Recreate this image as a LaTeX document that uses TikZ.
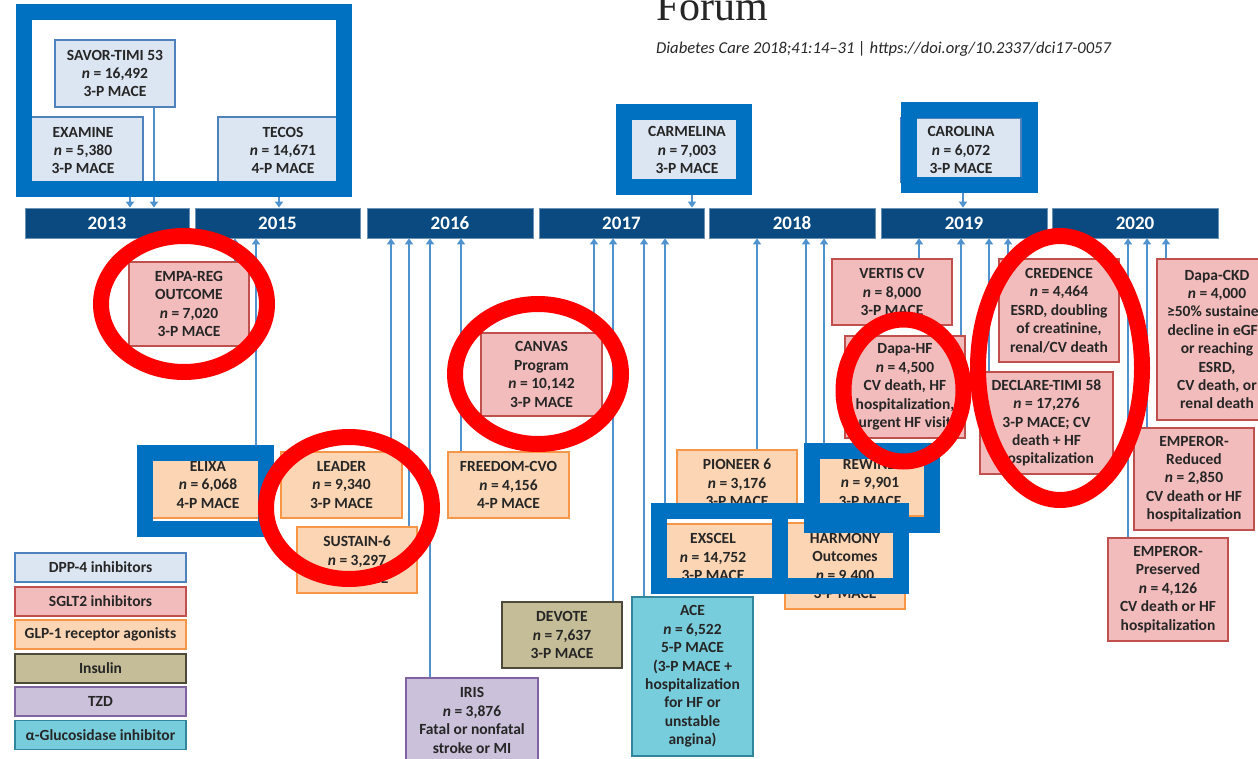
\documentclass[tikz,border=0pt]{standalone}
\usepackage{fontspec}
\setmainfont{Carlito}
\newfontfamily\forumfont{Liberation Serif}
\usetikzlibrary{arrows.meta}
\definecolor{dppF}{HTML}{DCE6F2}
\definecolor{dppD}{HTML}{4F81BD}
\definecolor{sgltF}{HTML}{F2BCBC}
\definecolor{sgltD}{HTML}{C0504D}
\definecolor{glpF}{HTML}{FCD5B4}
\definecolor{glpD}{HTML}{F79646}
\definecolor{insF}{HTML}{C4BD97}
\definecolor{insD}{HTML}{4D4A3A}
\definecolor{tzdF}{HTML}{CCC1DA}
\definecolor{tzdD}{HTML}{8064A2}
\definecolor{agiF}{HTML}{78CDDC}
\definecolor{agiD}{HTML}{31859C}
\definecolor{barC}{HTML}{0A4A80}
\definecolor{frameC}{HTML}{0070C0}
\definecolor{arrC}{HTML}{4F92CE}
\definecolor{txt}{HTML}{262626}
\begin{document}
\begin{tikzpicture}[x=1pt,y=-1pt,
  box/.style={draw, line width=1.2pt, align=center, inner sep=0pt, text=txt,
    font=\bfseries\fontsize{15.5}{18.4}\selectfont},
  dpp/.style={box, fill=dppF, draw=dppD},
  sglt/.style={box, fill=sgltF, draw=sgltD},
  glp/.style={box, fill=glpF, draw=glpD},
  ins/.style={box, fill=insF, draw=insD},
  tzd/.style={box, fill=tzdF, draw=tzdD},
  agi/.style={box, fill=agiF, draw=agiD},
  yr/.style={fill=barC, draw=barC!60!white, line width=0.8pt, text=white,
    font=\bfseries\fontsize{19}{22}\selectfont, minimum height=30pt, inner sep=0pt},
  arr/.style={draw=arrC, line width=1.8pt, -{Triangle[width=8pt,length=6pt]}},
  bframe/.style={draw=frameC, line width=16pt},
  ring/.style={draw=red, line width=16pt},
  leg/.style={minimum width=171pt, minimum height=29pt}
]
\useasboundingbox (0,0) rectangle (1258,759);
\clip (0,0) rectangle (1258,759);
\fill[white] (0,0) rectangle (1258,759);

% header
\node[anchor=base west, inner sep=0pt, font=\forumfont\fontsize{42}{46}\selectfont, text=txt] (forum) at (656,21) {Forum};
\node[anchor=base west, inner sep=0pt, font=\itshape\fontsize{16.6}{18}\selectfont, text=txt] (cite) at (656,54) {Diabetes Care 2018;41:14--31 | https://doi.org/10.2337/dci17-0057};

% timeline
\node[yr, minimum width=164pt] (y2013) at (107,223) {2013};
\node[yr, minimum width=165pt] (y2015) at (277.5,223) {2015};
\node[yr, minimum width=166pt] (y2016) at (450,223) {2016};
\node[yr, minimum width=165pt] (y2017) at (621.5,223) {2017};
\node[yr, minimum width=166pt] (y2018) at (792,223) {2018};
\node[yr, minimum width=166pt] (y2019) at (964,223) {2019};
\node[yr, minimum width=166pt] (y2020) at (1135,223) {2020};

% DPP-4 boxes (top)
\node[dpp, minimum width=120pt, minimum height=67pt] (savor) at (115,73.5) {SAVOR-TIMI 53\\\textit{n} = 16,492\\3-P MACE};
\node[dpp, minimum width=120pt, minimum height=67pt] (examine) at (83,150.5) {EXAMINE\\\textit{n} = 5,380\\3-P MACE};
\node[dpp, minimum width=130pt, minimum height=67pt] (tecos) at (283,150.5) {TECOS\\\textit{n} = 14,671\\4-P MACE};
\node[dpp, minimum width=120pt, minimum height=64pt] (carmelina) at (687,150) {CARMELINA\\\textit{n} = 7,003\\3-P MACE};
\node[dpp, minimum width=120pt, minimum height=64pt] (carolina) at (961,150) {CAROLINA\\\textit{n} = 6,072\\3-P MACE};

% SGLT2 boxes
\node[sglt, minimum width=120pt, minimum height=84pt] (empa) at (189,304) {EMPA-REG\\OUTCOME\\\textit{n} = 7,020\\3-P MACE};
\node[sglt, minimum width=121pt, minimum height=83pt] (canvas) at (541.5,374.5) {CANVAS\\Program\\\textit{n} = 10,142\\3-P MACE};
\node[sglt, minimum width=120pt, minimum height=66pt] (vertis) at (892,292) {VERTIS CV\\\textit{n} = 8,000\\3-P MACE};
\node[sglt, minimum width=120pt, minimum height=102pt] (dapahf) at (905,387) {Dapa-HF\\\textit{n} = 4,500\\CV death, HF\\hospitalization,\\urgent HF visit};
\node[sglt, minimum width=120pt, minimum height=103pt] (credence) at (1059,310.5) {CREDENCE\\\textit{n} = 4,464\\ESRD, doubling\\of creatinine,\\renal/CV death};
\node[sglt, minimum width=133pt, minimum height=102pt] (declare) at (1046.5,423) {DECLARE-TIMI 58\\\textit{n} = 17,276\\3-P MACE; CV\\death + HF\\hospitalization};
\node[sglt, minimum width=120pt, minimum height=161pt] (dapackd) at (1217,339.5) {Dapa-CKD\\\textit{n} = 4,000\\≥50\% sustained\\decline in eGFR\\or reaching\\ESRD,\\CV death, or\\renal death};
\node[sglt, minimum width=120pt, minimum height=102pt] (empr) at (1194,479) {EMPEROR-\\Reduced\\\textit{n} = 2,850\\CV death or HF\\hospitalization};
\node[sglt, minimum width=120pt, minimum height=103pt] (empp) at (1168,589.5) {EMPEROR-\\Preserved\\\textit{n} = 4,126\\CV death or HF\\hospitalization};

% GLP-1 boxes
\node[glp, minimum width=120pt, minimum height=66pt] (elixa) at (208,485) {ELIXA\\\textit{n} = 6,068\\4-P MACE};
\node[glp, minimum width=121pt, minimum height=66pt] (leader) at (341.5,485) {LEADER\\\textit{n} = 9,340\\3-P MACE};
\node[glp, minimum width=120pt, minimum height=66pt] (sustain) at (357,560) {SUSTAIN-6\\\textit{n} = 3,297\\3-P MACE};
\node[glp, minimum width=121pt, minimum height=66pt] (freedom) at (508.5,485) {FREEDOM-CVO\\\textit{n} = 4,156\\4-P MACE};
\node[glp, minimum width=120pt, minimum height=66pt] (pioneer) at (737,483) {PIONEER 6\\\textit{n} = 3,176\\3-P MACE};
\node[glp, minimum width=120pt, minimum height=66pt] (rewind) at (870,483) {REWIND\\\textit{n} = 9,901\\3-P MACE};
\node[glp, minimum width=120pt, minimum height=66pt] (exscel) at (713,557) {EXSCEL\\\textit{n} = 14,752\\3-P MACE};
\node[glp, minimum width=120pt, minimum height=86pt] (harmony) at (845,566) {HARMONY\\Outcomes\\\textit{n} = 9,400\\3-P MACE};

% other classes
\node[ins, minimum width=120pt, minimum height=66pt] (devote) at (562,635) {DEVOTE\\\textit{n} = 7,637\\3-P MACE};
\node[tzd, minimum width=132pt, minimum height=85pt] (iris) at (472,720.5) {IRIS\\\textit{n} = 3,876\\Fatal or nonfatal\\stroke or MI};
\node[agi, minimum width=121pt, minimum height=159pt] (ace) at (692.5,676.5) {ACE\\\textit{n} = 6,522\\5-P MACE\\(3-P MACE +\\hospitalization\\for HF or\\unstable\\angina)};

% legend
\node[dpp, leg] (lgdpp) at (100.5,567.5) {DPP-4 inhibitors};
\node[sglt, leg] (lgsglt) at (100.5,601.5) {SGLT2 inhibitors};
\node[glp, leg] (lgglp) at (100.5,634.5) {GLP-1 receptor agonists};
\node[ins, leg] (lgins) at (100.5,668.5) {Insulin};
\node[tzd, leg] (lgtzd) at (100.5,701.5) {TZD};
\node[agi, leg] (lgagi) at (100.5,735) {α-Glucosidase inhibitor};

% top arrows (down to bar)
\draw[arr] (130,0 |- examine.south) -- (130,0 |- y2013.north);
\draw[arr] (154,0 |- savor.south) -- (154,0 |- y2013.north);
\draw[arr] (279,0 |- tecos.south) -- (279,0 |- y2015.north);
\draw[arr] (692,0 |- carmelina.south) -- (692,0 |- y2017.north);
\draw[arr] (963,0 |- carolina.south) -- (963,0 |- y2019.north);

% bottom arrows (up to bar)
\draw[arr] (235,0 |- empa.north) -- (235,0 |- y2015.south);
\draw[arr] (256,0 |- elixa.north) -- (256,0 |- y2015.south);
\draw[arr] (391,0 |- leader.north) -- (391,0 |- y2016.south);
\draw[arr] (409,0 |- sustain.north) -- (409,0 |- y2016.south);
\draw[arr] (430,0 |- iris.north) -- (430,0 |- y2016.south);
\draw[arr] (461,0 |- freedom.north) -- (461,0 |- y2016.south);
\draw[arr] (594,0 |- canvas.north) -- (594,0 |- y2017.south);
\draw[arr] (613,0 |- devote.north) -- (613,0 |- y2017.south);
\draw[arr] (644,0 |- ace.north) -- (644,0 |- y2017.south);
\draw[arr] (665,0 |- exscel.north) -- (665,0 |- y2017.south);
\draw[arr] (757,0 |- pioneer.north) -- (757,0 |- y2018.south);
\draw[arr] (806,0 |- harmony.north) -- (806,0 |- y2018.south);
\draw[arr] (824,0 |- rewind.north) -- (824,0 |- y2018.south);
\draw[arr] (919,0 |- vertis.north) -- (919,0 |- y2019.south);
\draw[arr] (961,0 |- dapahf.north) -- (961,0 |- y2019.south);
\draw[arr] (989,0 |- declare.north) -- (989,0 |- y2019.south);
\draw[arr] (1008,0 |- credence.north) -- (1008,0 |- y2019.south);
\draw[arr] (1128,0 |- empp.north) -- (1128,0 |- y2020.south);
\draw[arr] (1147,0 |- empr.north) -- (1147,0 |- y2020.south);
\draw[arr] (1166,0 |- dapackd.north) -- (1166,0 |- y2020.south);

% blue highlight frames
\draw[bframe] (24,12.5) rectangle (344,189.5);
\draw[bframe] (624,112) rectangle (744,187);
\draw[bframe] (909,110) rectangle (1030,185);
\draw[bframe] (145,453) rectangle (266,529);
\draw[bframe] (812,451) rectangle (932,525);
\draw[bframe] (659,511) rectangle (780,586);
\draw[bframe] (780,511) rectangle (901,586);

% red rings
\draw[ring] (184,304) ellipse [x radius=83pt, y radius=68pt];
\draw[ring] (349,508) ellipse [x radius=83pt, y radius=71pt];
\draw[ring] (538,374) ellipse [x radius=83pt, y radius=70pt];
\draw[ring] (903.5,390.5) ellipse [x radius=60pt, y radius=71pt];
\draw[ring] (1060,368) ellipse [x radius=82pt, y radius=132pt];
\end{tikzpicture}
\end{document}
